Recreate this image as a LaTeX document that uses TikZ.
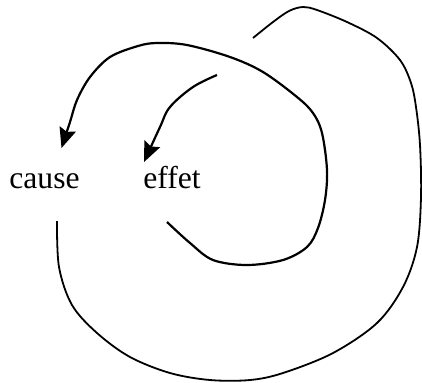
\documentclass[tikz,border=0pt]{standalone}
\usepackage{fontspec}
\setmainfont{Liberation Serif}
\usetikzlibrary{arrows.meta}
\begin{document}
\begin{tikzpicture}[x=0.5pt,y=-0.5pt,
  lbl/.style={anchor=base west,inner sep=0pt,font=\fontsize{15.8}{18}\selectfont},
  curve/.style={line width=0.9pt,line join=round},
  arr/.style={curve,line width=1.1pt,-{Stealth[length=10pt,width=8.5pt,inset=1.5pt]}}]
\useasboundingbox (0,0) rectangle (422,382);
\node[lbl] (cause) at (9,188) {cause};
\node[lbl] (effet) at (143,188) {effet};
% named ends of the spiral
\coordinate (causeTip) at ([xshift=8.5pt,yshift=20pt]cause.base);
\coordinate (effetTip) at ([xshift=0.5pt,yshift=13pt]effet.base west);
\coordinate (midStart) at ([xshift=12pt,yshift=-17pt]effet.base west);
\coordinate (outStart) at ([xshift=24pt,yshift=-16.5pt]cause.base west);
\coordinate (outEnd) at (253,38);
\coordinate (inStart) at (217,75);
% inner arrow to effet
\draw[arr] plot[smooth,tension=0.6] coordinates {(inStart) (193,87) (170,107) (160,127) (effetTip)};
% middle loop: from below effet round to cause
\draw[arr] plot[smooth,tension=0.55] coordinates {(midStart) (190,243) (213,260) (247,265) (283,260) (307,247) (318,228) (325,200) (327,170) (322,133) (313,113) (297,97) (263,72) (230,57) (187,45) (157,43) (138,46) (110,57) (90,77) (77,100) (70,122) (causeTip)};
% outer loop: from below cause round to the top
\draw[curve] plot[smooth,tension=0.55] coordinates {(outStart) (59,267) (72,305) (97,333) (130,357) (170,373) (210,380) (250,380) (283,373) (333,353) (377,323) (403,287) (417,247) (421,197) (420,145) (416,107) (411,83) (400,60) (377,38) (347,22) (317,10) (303,7) (289,11) (273,22) (outEnd)};
\end{tikzpicture}
\end{document}
